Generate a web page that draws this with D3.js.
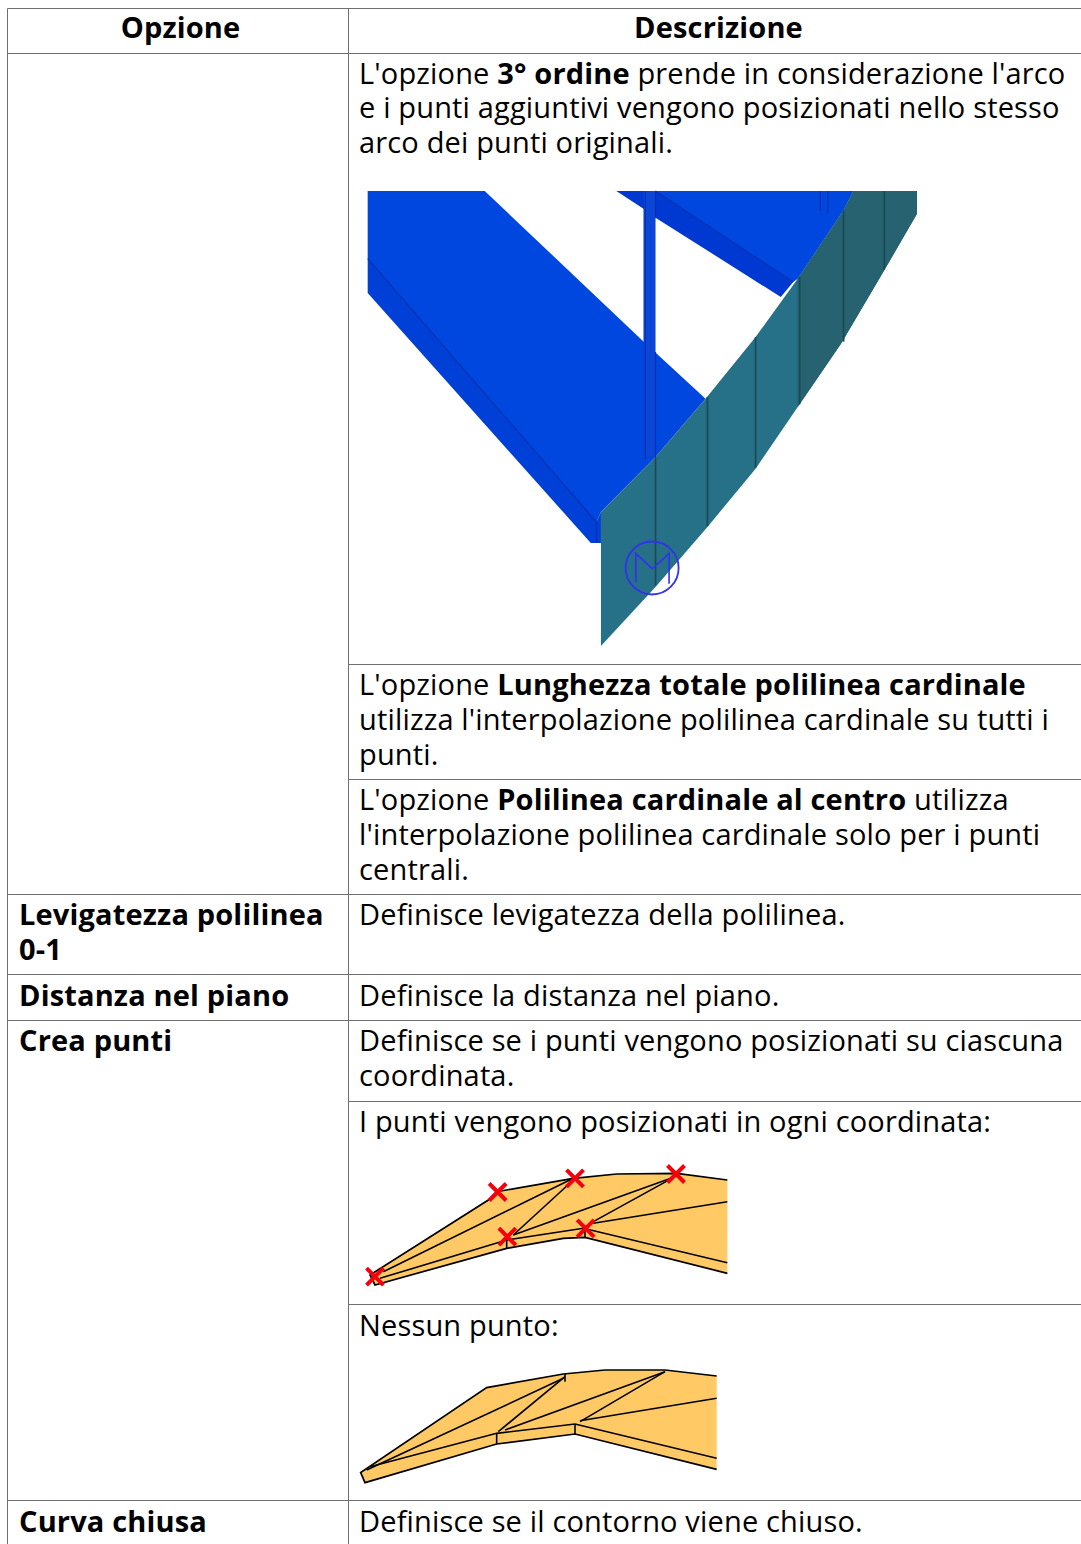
<!DOCTYPE html>
<html>
<head>
<meta charset="utf-8">
<title>Opzione</title>
<script src="https://cdn.jsdelivr.net/npm/d3@7"></script>
<style>
  html, body { margin: 0; padding: 0; background: #fff; overflow: hidden; }
  svg { display: block; }
  text { font-family: 'Open Sans', sans-serif; font-size: 29px; letter-spacing: 0.16px; fill: #000; }
</style>
</head>
<body>
<svg></svg>
<script>
'use strict'

const headers = ['Opzione', 'Descrizione']

// left column, row is the index in rowTops
const optionCells = [
  { row: 3, lines: ['Levigatezza polilinea', '0-1'] },
  { row: 4, lines: ['Distanza nel piano'] },
  { row: 5, lines: ['Crea punti'] },
  { row: 8, lines: ['Curva chiusa'] }
]

// right column, each line is a list of [text, bold] runs
const descriptionCells = [
  { row: 0, lines: [
    [["L'opzione ", 0], ['3° ordine', 1], [" prende in considerazione l'arco", 0]],
    [['e i punti aggiuntivi vengono posizionati nello stesso', 0]],
    [['arco dei punti originali.', 0]]
  ] },
  { row: 1, lines: [
    [["L'opzione ", 0], ['Lunghezza totale polilinea cardinale', 1]],
    [["utilizza l'interpolazione polilinea cardinale su tutti i", 0]],
    [['punti.', 0]]
  ] },
  { row: 2, lines: [
    [["L'opzione ", 0], ['Polilinea cardinale al centro', 1], [' utilizza', 0]],
    [["l'interpolazione polilinea cardinale solo per i punti", 0]],
    [['centrali.', 0]]
  ] },
  { row: 3, lines: [[['Definisce levigatezza della polilinea.', 0]]] },
  { row: 4, lines: [[['Definisce la distanza nel piano.', 0]]] },
  { row: 5, lines: [
    [['Definisce se i punti vengono posizionati su ciascuna', 0]],
    [['coordinata.', 0]]
  ] },
  { row: 6, lines: [[['I punti vengono posizionati in ogni coordinata:', 0]]] },
  { row: 7, lines: [[['Nessun punto:', 0]]] },
  { row: 8, lines: [[['Definisce se il contorno viene chiuso.', 0]]] }
]

// the three pictures in the cells, in their own pixel units
const beamTop = [[47, 32], [358, 32], [775, 478], [945, 655], [812, 830], [667, 995], [655, 1025], [47, 235]]
const beamSide = [[47, 235], [655, 1025], [667, 995], [667, 1088], [640, 1088], [47, 338]]
const upperBand = [[708, 32], [812, 32], [1178, 305], [1145, 350], [812, 112], [780, 85]]
const upperTop = [[812, 32], [1338, 32], [1312, 90], [1190, 295], [1178, 305]]
const post = [[780, 32], [812, 32], [812, 825], [780, 835]]
const panel = [[667, 995], [812, 830], [945, 655], [1078, 470], [1190, 295], [1312, 90], [1338, 32], [1507, 32], [1507, 100], [1420, 270], [1305, 490], [1190, 680], [1078, 865], [950, 1040], [812, 1220], [667, 1397]]
const panelDark = [[1190, 295], [1312, 90], [1338, 32], [1507, 32], [1507, 100], [1420, 270], [1305, 490], [1190, 680]]
const ribs = [
  [[812, 830], [812, 1215]], [[950, 650], [950, 1038]], [[1078, 470], [1078, 862]],
  [[1195, 290], [1195, 672]], [[1312, 90], [1312, 484]], [[1420, 32], [1420, 268]]
]
const beamLines = [
  [[47, 235], [655, 1025]], [[812, 32], [1178, 305]], [[655, 1025], [655, 1088]],
  [[785, 32], [785, 835]], [[812, 32], [812, 112]], [[812, 515], [812, 830]],
  [[1250, 32], [1250, 92]], [[1270, 32], [1270, 100]]
]
const symbolM = [[760, 1205], [760, 1120], [803, 1165], [848, 1120], [848, 1210]]
const symbolCentre = [[803, 1163]]

// outlines run from the lower right corner to the upper right one, the picture edge has no line
const pointsOutline = [[1132, 370], [705, 262], [640, 265], [470, 295], [75, 405], [60, 375], [415, 150], [440, 125], [670, 85], [800, 72], [980, 70], [1132, 90]]
const pointsLines = [
  [[90, 385], [470, 270], [700, 235], [1132, 338]],
  [[100, 365], [670, 85]],
  [[490, 255], [670, 90]],
  [[490, 255], [975, 80]],
  [[730, 215], [975, 80]],
  [[730, 220], [1132, 155]],
  [[470, 270], [470, 295]],
  [[705, 235], [705, 262]]
]
const pointsCrosses = [[75, 380], [443, 126], [675, 85], [978, 72], [472, 260], [707, 235]]

const plainOutline = [[1100, 358], [675, 252], [440, 282], [45, 398], [32, 368], [410, 113], [640, 72], [765, 60], [945, 60], [1100, 78]]
const plainLines = [
  [[60, 350], [440, 250], [675, 222], [1100, 325]],
  [[50, 360], [640, 85]],
  [[445, 245], [645, 80]],
  [[645, 72], [645, 95]],
  [[465, 240], [945, 65]],
  [[690, 215], [945, 65]],
  [[690, 212], [1100, 145]],
  [[440, 250], [440, 282]],
  [[675, 222], [675, 252]]
]

const width = 1081, height = 1544

// table geometry
const columnX = [7.5, 348.5]
const headerTop = 8.5
const rowTops = [53.5, 664.5, 779.5, 894.5, 974.5, 1020.5, 1101.5, 1304.5, 1500.5]
const rowNudge = [-0.5, 0, 0, 0, 1, 0, 0, 1, 1]
const fullRules = [headerTop, 53.5, 894.5, 974.5, 1020.5, 1500.5]
const rightRules = [664.5, 779.5, 1101.5, 1304.5]
const lineHeight = 34.8
const firstBaseline = 30.5

const baseline = (row, i) => rowTops[row] + rowNudge[row] + firstBaseline + i * lineHeight

const svg = d3.select('svg').attr('width', width).attr('height', height)

svg.append('defs').append('filter').attr('id', 'soft')
  .append('feGaussianBlur').attr('stdDeviation', 0.45)

// ---- table rules
const rules = svg.append('g').attr('stroke', '#6f6f6f').attr('stroke-width', 1)

rules.selectAll('.full').data(fullRules).join('line')
  .attr('class', 'full')
  .attr('x1', columnX[0]).attr('x2', width)
  .attr('y1', d => d).attr('y2', d => d)

rules.selectAll('.right').data(rightRules).join('line')
  .attr('class', 'right')
  .attr('x1', columnX[1]).attr('x2', width)
  .attr('y1', d => d).attr('y2', d => d)

rules.selectAll('.col').data(columnX).join('line')
  .attr('class', 'col')
  .attr('x1', d => d).attr('x2', d => d)
  .attr('y1', headerTop).attr('y2', height)

// ---- table text
svg.selectAll('.head').data(headers).join('text')
  .attr('class', 'head')
  .attr('x', (d, i) => i ? 718.5 : 180.5)
  .attr('y', headerTop + 29.5)
  .attr('text-anchor', 'middle')
  .attr('font-weight', 700)
  .text(d => d)

optionCells.forEach(cell => {
  svg.append('g').selectAll('text').data(cell.lines).join('text')
    .attr('x', columnX[0] + 11.5)
    .attr('y', (d, i) => baseline(cell.row, i))
    .attr('font-weight', 700)
    .text(d => d)
})

descriptionCells.forEach(cell => {
  const t = svg.append('g').selectAll('text').data(cell.lines).join('text')
    .attr('x', columnX[1] + 10.5)
    .attr('y', (d, i) => baseline(cell.row, i))
  t.selectAll('tspan').data(d => d).join('tspan')
    .style('white-space', 'pre')
    .attr('font-weight', d => d[1] ? 700 : 400)
    .text(d => d[0])
})

// ---- first picture: beams and side panel
const bx = d3.scaleLinear().domain([0, 1507]).range([350, 917])
const by = d3.scaleLinear().domain([32, 1397]).range([191, 646])
const beamPath = d3.line().x(d => bx(d[0])).y(d => by(d[1]))

const beam = svg.append('g').attr('filter', 'url(#soft)')

const beamShapes = [
  [upperBand, '#0238d2'], [upperTop, '#0047e0'], [beamSide, '#023fd6'], [beamTop, '#0047e0'],
  [post, '#0a44d6'], [panel, '#287088'], [panelDark, '#25626f']
]
beam.selectAll('path.shape').data(beamShapes).join('path')
  .attr('class', 'shape')
  .attr('d', d => beamPath(d[0]) + 'Z')
  .attr('fill', d => d[1])

beam.selectAll('path.blue-line').data(beamLines).join('path')
  .attr('class', 'blue-line')
  .attr('d', beamPath)
  .attr('fill', 'none').attr('stroke', '#0330b0').attr('stroke-width', 1.2)

beam.selectAll('path.rib').data(ribs).join('path')
  .attr('class', 'rib')
  .attr('d', beamPath)
  .attr('fill', 'none').attr('stroke', '#1c4a58').attr('stroke-width', 1.7)

beam.selectAll('circle').data(symbolCentre).join('circle')
  .attr('cx', d => bx(d[0])).attr('cy', d => by(d[1]))
  .attr('r', 26.5)
  .attr('fill', 'none').attr('stroke', '#3030f0').attr('stroke-width', 1.8)

beam.append('path')
  .attr('d', beamPath(symbolM))
  .attr('fill', 'none').attr('stroke', '#3030f0').attr('stroke-width', 1.6)

// ---- second and third picture: surface with and without points
function surface(outline, lines, left, top) {
  const x = d3.scaleLinear().domain([0, 3]).range([left, left + 1])
  const y = d3.scaleLinear().domain([0, 3]).range([top, top + 1])
  const p = d3.line().x(d => x(d[0])).y(d => y(d[1]))
  const g = svg.append('g').attr('filter', 'url(#soft)')

  g.append('path')
    .attr('d', p(outline))
    .attr('fill', '#ffca66')
    .attr('stroke', '#000').attr('stroke-width', 1.7)

  g.selectAll('path.l').data(lines).join('path')
    .attr('class', 'l')
    .attr('d', p)
    .attr('fill', 'none')
    .attr('stroke', '#000').attr('stroke-width', 1.6)

  return { g, x, y }
}

const withPoints = surface(pointsOutline, pointsLines, 350, 1150)
surface(plainOutline, plainLines, 350, 1350)

const cross = d3.line()
withPoints.g.selectAll('path.cross').data(pointsCrosses).join('path')
  .attr('class', 'cross')
  .attr('d', d => {
    const cx = withPoints.x(d[0]), cy = withPoints.y(d[1])
    return cross([[cx - 8.5, cy - 8.5], [cx + 8.5, cy + 8.5]]) + cross([[cx - 8.5, cy + 8.5], [cx + 8.5, cy - 8.5]])
  })
  .attr('fill', 'none')
  .attr('stroke', '#f5000f').attr('stroke-width', 4)
</script>
</body>
</html>
